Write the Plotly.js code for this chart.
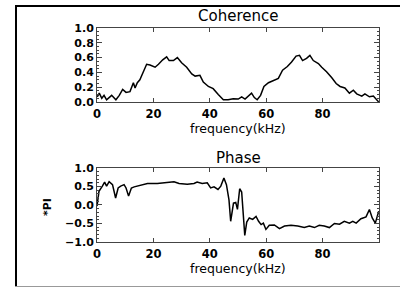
<!DOCTYPE html>
<html>
<head>
<meta charset="utf-8">
<script src="https://cdn.plot.ly/plotly-3.0.1.min.js"></script>
<style>
html,body{margin:0;padding:0;background:#fff;overflow:hidden;}
#chart{position:absolute;left:0;top:0;width:400px;height:287px;}
.ln{position:fixed;pointer-events:none;z-index:9999;}
#topl{left:15px;top:5px;width:385px;height:2px;background:#000;}
#leftl{left:15px;top:5px;width:2px;height:282px;background:#000;}
#botl{left:15px;top:286px;width:385px;height:1px;background:#999;}
</style>
</head>
<body>
<div id="chart"></div>
<div class="ln" id="topl"></div>
<div class="ln" id="leftl"></div>
<div class="ln" id="botl"></div>
<script>
// Coherence curve (frequency kHz, coherence)
const cohFreq = [0.1,0.8,1.7,2.5,3.4,5.2,6.7,7.9,9.1,10.3,11.7,12.9,13.5,14.3,15.2,16.4,17.6,18.8,20.6,21.8,23.3,24.7,25.6,27.1,28.5,30.0,31.8,33.6,34.8,36.5,37.7,39.5,41.2,43.0,44.8,46.5,48.3,50.1,51.3,52.5,53.7,54.8,55.8,56.8,58.0,59.2,60.8,62.5,64.3,65.8,67.5,69.0,70.6,71.8,72.9,74.3,75.5,76.7,78.5,79.7,81.4,83.2,84.8,86.2,87.9,89.5,90.9,92.1,93.9,95.0,96.6,98.0,99.2,99.9];
const cohVals = [0.07,0.12,0.05,0.09,0.03,0.09,0.03,0.09,0.17,0.13,0.14,0.26,0.19,0.26,0.30,0.41,0.51,0.50,0.47,0.51,0.57,0.61,0.56,0.56,0.60,0.53,0.47,0.38,0.35,0.36,0.27,0.21,0.18,0.10,0.03,0.03,0.045,0.04,0.07,0.04,0.08,0.12,0.06,0.03,0.09,0.21,0.26,0.29,0.32,0.43,0.48,0.54,0.62,0.63,0.56,0.59,0.63,0.56,0.52,0.47,0.41,0.33,0.25,0.21,0.19,0.12,0.16,0.11,0.08,0.11,0.07,0.08,0.03,0.0];

// Phase curve (frequency kHz, phase in units of PI)
const phFreq = [0.0,0.7,1.9,2.7,3.4,4.3,5.5,6.6,7.5,8.4,9.6,10.3,11.2,12.2,13.2,14.9,17.9,21.4,23.7,27.3,29.1,32.0,34.4,35.5,37.3,39.1,40.3,41.5,42.9,43.9,45.0,45.9,46.8,47.4,48.4,49.2,49.8,50.6,51.3,51.9,52.4,53.1,54.0,55.2,56.4,57.3,58.2,59.0,59.9,61.1,62.9,64.7,66.5,68.8,71.2,73.5,75.3,77.1,78.8,80.6,82.4,84.2,86.0,87.7,89.5,90.7,91.9,93.6,95.4,96.6,97.6,98.7,99.9];
const phVals = [-0.03,0.37,0.51,0.62,0.51,0.63,0.55,0.19,0.46,0.51,0.55,0.46,0.24,0.46,0.49,0.53,0.58,0.58,0.60,0.63,0.58,0.56,0.58,0.62,0.58,0.60,0.46,0.49,0.42,0.51,0.73,0.55,0.14,-0.44,0.05,0.07,-0.12,0.44,0.35,-0.35,-0.82,-0.46,-0.35,-0.39,-0.31,-0.44,-0.53,-0.49,-0.66,-0.55,-0.54,-0.64,-0.57,-0.55,-0.57,-0.61,-0.57,-0.61,-0.55,-0.57,-0.61,-0.50,-0.52,-0.44,-0.49,-0.44,-0.49,-0.37,-0.32,-0.12,-0.35,-0.49,-0.17];

const xTickVals = [0,20,40,60,80];
const xTickText = ['0','20','40','60','80'];
const cohTickVals = [0,0.2,0.4,0.6,0.8,1.0];
const cohTickText = ['0.0','0.2','0.4','0.6','0.8','1.0'];
const phTickVals = [-1,-0.5,0,0.5,1];
const phTickText = ['\u22121.0','\u22120.5','0.0','0.5','1.0'];

const FONT = 'DejaVu Sans, sans-serif';
const axCol = '#444';

const traces = [
  {x: cohFreq, y: cohVals, type: 'scatter', mode: 'lines', line: {color: '#000', width: 1.5}, xaxis: 'x', yaxis: 'y', hoverinfo: 'skip'},
  {x: phFreq, y: phVals, type: 'scatter', mode: 'lines', line: {color: '#000', width: 1.5}, xaxis: 'x2', yaxis: 'y2', hoverinfo: 'skip'}
];

function xax(anchor) {
  return {
    anchor: anchor, domain: [0, 1], range: [0, 100], showgrid: false, zeroline: false,
    showline: true, linecolor: axCol, linewidth: 1, mirror: 'ticks',
    ticks: 'inside', ticklen: 4, tickcolor: axCol, tickwidth: 1,
    tickvals: xTickVals, ticktext: xTickText, ticklabelstandoff: 1,
    tickfont: {family: FONT, size: 11.5, color: '#000', weight: 'bold'}
  };
}
function yax(anchor, domain, range, tv, tt, minorStep) {
  return {
    anchor: anchor, domain: domain, range: range, showgrid: false, zeroline: false,
    showline: true, linecolor: axCol, linewidth: 1, mirror: 'ticks',
    ticks: 'inside', ticklen: 5, tickcolor: axCol, tickwidth: 1,
    tickvals: tv, ticktext: tt,
    tickfont: {family: FONT, size: 11, color: '#000', weight: 'bold'},
    minor: {ticks: 'inside', ticklen: 2, tickcolor: axCol, dtick: minorStep, showgrid: false}
  };
}

const PX = function (px) { return (px - 97) / 282; };
const PY = function (py) { return (242 - py) / 214; };

const layout = {
  width: 400, height: 287,
  margin: {l: 97, r: 21, t: 28, b: 45, pad: 0},
  paper_bgcolor: '#fff', plot_bgcolor: '#fff',
  showlegend: false,
  xaxis: xax('y'),
  yaxis: yax('x', [0.6542, 1], [0, 1], cohTickVals, cohTickText, 0.05),
  xaxis2: xax('y2'),
  yaxis2: yax('x2', [0, 0.3458], [-1, 1], phTickVals, phTickText, 0.1),
  annotations: [
    {text: 'Coherence', xref: 'paper', yref: 'paper', x: 0.5, y: PY(16.5), xanchor: 'center', yanchor: 'middle', showarrow: false, font: {family: FONT, size: 15, color: '#000'}},
    {text: 'Phase', xref: 'paper', yref: 'paper', x: 0.5, y: PY(157.5), xanchor: 'center', yanchor: 'middle', showarrow: false, font: {family: FONT, size: 15, color: '#000'}},
    {text: 'frequency(kHz)', xref: 'paper', yref: 'paper', x: 0.5, y: PY(128.5), xanchor: 'center', yanchor: 'middle', showarrow: false, font: {family: FONT, size: 12.5, color: '#000'}},
    {text: 'frequency(kHz)', xref: 'paper', yref: 'paper', x: 0.5, y: PY(268), xanchor: 'center', yanchor: 'middle', showarrow: false, font: {family: FONT, size: 12.5, color: '#000'}},
    {text: '*PI', xref: 'paper', yref: 'paper', x: PX(47), y: PY(207), xanchor: 'center', yanchor: 'middle', textangle: -90, showarrow: false, font: {family: FONT, size: 11, color: '#000', weight: 'bold'}}
  ],
  shapes: [
    {type: 'line', xref: 'paper', yref: 'paper', x0: PX(15), x1: PX(400), y0: PY(6), y1: PY(6), line: {color: '#000', width: 2}, layer: 'above'}
  ]
};

Plotly.newPlot('chart', traces, layout, {staticPlot: true, displayModeBar: false});
</script>
</body>
</html>
